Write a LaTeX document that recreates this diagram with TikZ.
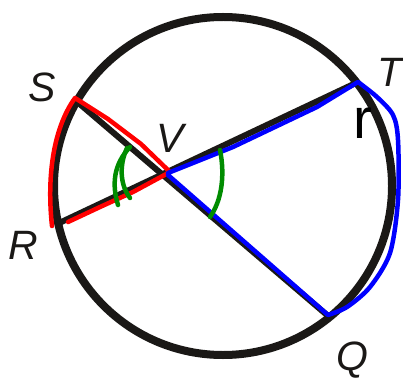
\documentclass[tikz,border=0pt]{standalone}
\usepackage{fontspec}
\setmainfont{Liberation Sans}
\definecolor{ink}{RGB}{26,24,22}
\definecolor{penred}{RGB}{255,0,0}
\definecolor{penblue}{RGB}{0,0,255}
\definecolor{pengreen}{RGB}{0,140,0}
\tikzset{
  rim/.style={draw=ink, line width=8pt},
  chord/.style={draw=ink, line width=6pt},
  redpen/.style={draw=penred, line width=4.5pt, line join=round, line cap=round},
  bluepen/.style={draw=penblue, line width=4.5pt, line join=round, line cap=round},
  greenpen/.style={draw=pengreen, line width=4.5pt, line cap=round},
  lbl/.style={font=\fontsize{41}{41}\selectfont\itshape, text=ink, inner sep=0pt},
}
\begin{document}
\begin{tikzpicture}[x=1pt,y=-1pt]
\useasboundingbox (0,0) rectangle (403,379);
\coordinate (O) at (223,186);
\coordinate (S) at (75,100);
\coordinate (T) at (358,82);
\coordinate (R) at (55,225);
\coordinate (Q) at (327,315);
\coordinate (V) at (166,174);
% circle and chords
\draw[rim] (O) circle (169);
\draw[chord] (S) -- (Q);
\draw[chord] (R) -- (T);
% red outline
\draw[redpen] (52,226) .. controls (47,180) and (52,130) .. (75,98) -- (108,119) -- (141,144) -- (170,172) -- (133,192) -- (100,207) -- (68,222);
% blue outline
\draw[bluepen] (168,173) -- (233,147) -- (317,107) -- plot[smooth] coordinates {(358,82) (377,97) (393,115) (398,140) (398,200) (390,253) (370,287) (347,307) (328,315)} -- (168,175);
% angle marks
\draw[greenpen] (130,147) .. controls (113,165) and (112,185) .. (118,205);
\draw[greenpen] (127,148) .. controls (119,165) and (120,185) .. (130,198);
\draw[greenpen] (220,150) .. controls (225,175) and (222,200) .. (210,217);
% labels
\node[lbl] (lS) at (42,87) {S};
\node[lbl] (lT) at (390,72) {T};
\node[lbl] (lV) at (170,138) {V};
\node[lbl] (lR) at (23,245) {R};
\node[lbl] (lQ) at (352,360) {Q};
\node[font=\fontsize{57}{57}\selectfont, text=black, inner sep=0pt] (lr) at (363,123) {r};
\end{tikzpicture}
\end{document}
